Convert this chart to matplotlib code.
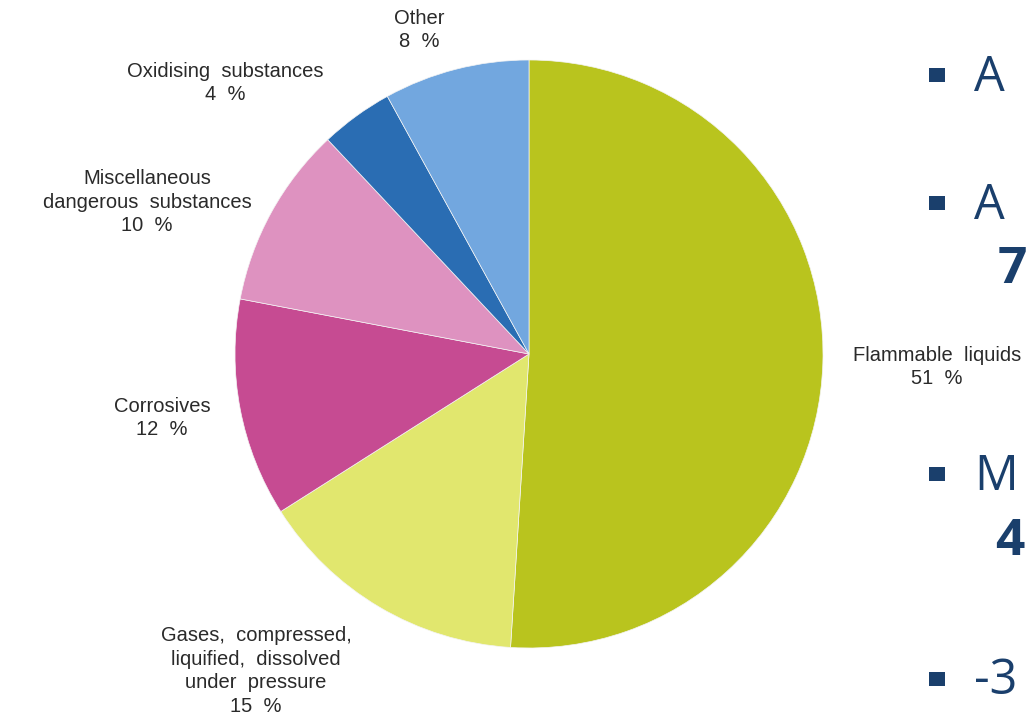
import matplotlib.pyplot as plt
from matplotlib.patches import Rectangle

# data
categories = ["Flammable  liquids",
              "Gases,  compressed,\nliquified,  dissolved\nunder  pressure",
              "Corrosives",
              "Miscellaneous\ndangerous  substances",
              "Oxidising  substances",
              "Other"]
shares = [51, 15, 12, 10, 4, 8]
colors = ["#B9C41E", "#E1E76E", "#C64B92", "#DE92C0", "#2A6DB3", "#72A7DF"]

# bullet text cut off on the right edge of the slide
bullet_lines = ["A", "A", "M", "-3"]
extra_lines = ["7", "4"]

W, H = 1030, 723

fig = plt.figure(figsize=(W / 100, H / 100), dpi=100)
ax = fig.add_axes([0, 0, 1, 1])

ax.pie(shares, colors=colors, startangle=90, counterclock=False,
       center=(529, H - 354), radius=294,
       wedgeprops=dict(edgecolor="#f4f4f4", linewidth=0.5))
ax.set_xlim(0, W)
ax.set_ylim(0, H)
ax.set_aspect("auto")
ax.axis("off")

# label placement (pixel positions of block centres)
label_pos = [(937, 367), (256, 671), (162, 418), (147, 202), (225, 83), (419, 30)]
for name, val, (x, y) in zip(categories, shares, label_pos):
    ax.text(x, H - y, f"{name}\n{val}  %", ha="center", va="center",
            fontsize=14.5, family="Liberation Sans", color="#2a2a2a",
            linespacing=1.3)

navy = "#1A3F6C"
bullet_y = [75, 203, 474, 679]
text_y = [78, 206, 477, 681]
for txt, yb, yt in zip(bullet_lines, bullet_y, text_y):
    ax.add_patch(Rectangle((929, H - yb - 7), 16, 14, color=navy, lw=0))
    ax.text(974, H - yt, txt, ha="left", va="center", fontsize=35,
            family="Open Sans", color=navy)

extra_pos = [(998, 270), (995, 542)]
for txt, (x, y) in zip(extra_lines, extra_pos):
    ax.text(x, H - y, txt, ha="left", va="center", fontsize=37,
            family="Open Sans", weight="bold", color=navy)

fig.savefig("out.png", dpi=100)
